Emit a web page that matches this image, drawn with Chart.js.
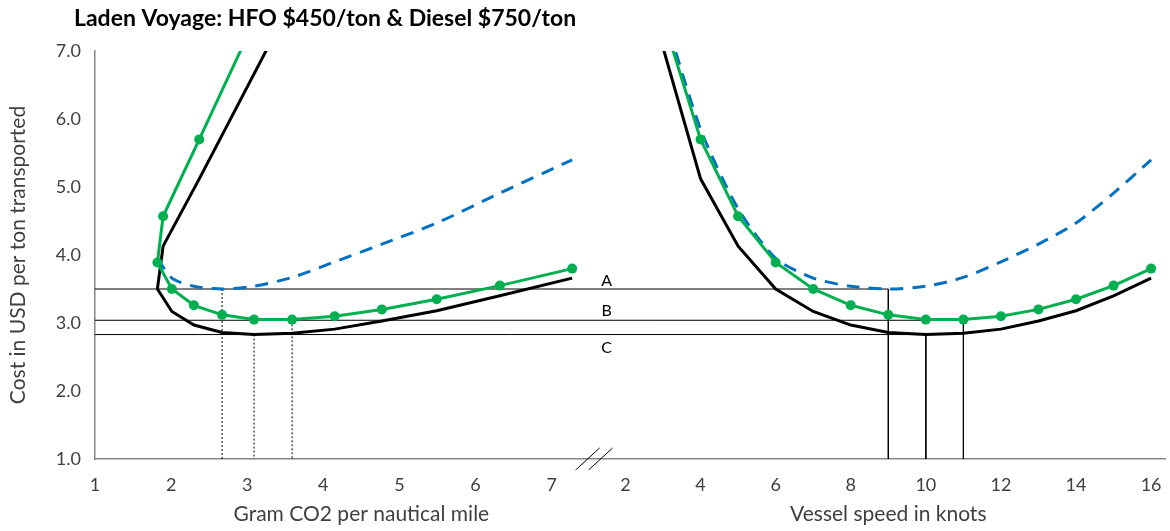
<!DOCTYPE html>
<html>
<head>
<meta charset="utf-8">
<script src="https://cdn.jsdelivr.net/npm/chart.js@4"></script>
<style>
  body { margin: 0; background: #fff; }
  #wrap { width: 1170px; height: 531px; }
</style>
</head>
<body>
<div id="wrap"><canvas id="chart" width="1170" height="531"></canvas></div>
<script>
const titleText = 'Laden Voyage: HFO $450/ton & Diesel $750/ton';
const yTitle = 'Cost in USD per ton transported';
const co2Title = 'Gram CO2 per nautical mile';
const speedTitle = 'Vessel speed in knots';

// one entry per vessel speed (knots)
const speeds    = [3, 4, 5, 6, 7, 8, 9, 10, 11, 12, 13, 14, 15, 16];
const greenCO2  = [3.11, 2.37, 1.895, 1.82, 2.01, 2.30, 2.67, 3.09, 3.59, 4.15, 4.77, 5.49, 6.32, 7.27];
const blackCO2  = [3.27, 2.37, 1.895, 1.82, 2.01, 2.30, 2.67, 3.09, 3.59, 4.15, 4.77, 5.49, 6.32, 7.27];
const greenCost = [7.48, 5.70, 4.57, 3.89, 3.50, 3.26, 3.12, 3.05, 3.05, 3.10, 3.20, 3.35, 3.55, 3.80];
const blackCost = [7.05, 5.12, 4.13, 3.50, 3.17, 2.97, 2.86, 2.83, 2.85, 2.91, 3.03, 3.18, 3.40, 3.66];
const blueCost  = [7.60, 5.85, 4.68, 3.95, 3.66, 3.54, 3.50, 3.54, 3.67, 3.90, 4.16, 4.47, 4.91, 5.40];
const blueFromSpeed = 6; // dashed curve only starts here on the CO2 side

// optimum lines A, B, C
const refLabels = ['A', 'B', 'C'];
const refCost   = [3.50, 3.04, 2.83];
const refSpeed  = [9, 11, 10];
const refCO2    = [2.67, 3.59, 3.09];

const yTicks = [1, 2, 3, 4, 5, 6, 7];
const co2Ticks = [1, 2, 3, 4, 5, 6, 7];
const speedTicks = [2, 4, 6, 8, 10, 12, 14, 16];
const co2Range = [1, 15.06];
const speedRange = [-12.13, 16.37];
const co2TitleAt = 4.5;   // where the CO2 axis title is centred
const speedTitleAt = 9;

const GREEN = '#00B050', BLUE = '#0070C0', BLACK = '#000000';
const TICK = '#404040';
const FONT = 'Lato, "Open Sans", sans-serif';

function pts(xs, ys, keep) {
  const out = [];
  speeds.forEach((s, i) => { if (!keep || keep(s)) out.push({ x: xs[i], y: ys[i] }); });
  return out;
}

const lineBase = { pointRadius: 0, borderWidth: 3, tension: 0, fill: false };
const green = { ...lineBase, borderColor: GREEN, backgroundColor: GREEN, pointRadius: 5, pointBorderWidth: 0, pointBackgroundColor: GREEN };
const blue = { ...lineBase, borderColor: BLUE, borderDash: [13, 9], tension: 0.25 };
const black = { ...lineBase, borderColor: BLACK };

const datasets = [
  // speed side
  { ...green, xAxisID: 'xSpeed', data: pts(speeds, greenCost) },
  { ...blue, xAxisID: 'xSpeed', data: pts(speeds, blueCost) },
  { ...black, xAxisID: 'xSpeed', data: pts(speeds, blackCost) },
  // CO2 side
  { ...green, xAxisID: 'xCO2', data: pts(greenCO2, greenCost) },
  { ...blue, xAxisID: 'xCO2', data: pts(greenCO2, blueCost, s => s >= blueFromSpeed) },
  { ...black, xAxisID: 'xCO2', data: pts(blackCO2, blackCost) }
];

refLabels.forEach((lab, i) => {
  datasets.push({
    xAxisID: 'xSpeed', borderColor: BLACK, borderWidth: 1, pointRadius: 0, tension: 0,
    data: [{ x: speedRange[0], y: refCost[i] }, { x: refSpeed[i], y: refCost[i] }, { x: refSpeed[i], y: yTicks[0] }]
  });
  datasets.push({
    xAxisID: 'xCO2', borderColor: BLACK, borderWidth: 1, borderDash: [2, 2], pointRadius: 0,
    data: [{ x: refCO2[i], y: refCost[i] }, { x: refCO2[i], y: yTicks[0] }]
  });
});

const decor = {
  id: 'decor',
  afterDraw(chart) {
    const { ctx, chartArea, scales } = chart;
    const xc = scales.xCO2, xs = scales.xSpeed, y = scales.y;
    ctx.save();

    // title
    ctx.fillStyle = '#000';
    ctx.font = 'bold 23px ' + FONT;
    ctx.textAlign = 'left';
    ctx.textBaseline = 'middle';
    ctx.fillText(titleText, 74, 19);

    // speed tick labels, in line with the CO2 tick labels
    const item = xc.getLabelItems()[0];
    ctx.font = '18px ' + FONT;
    ctx.fillStyle = TICK;
    ctx.textAlign = 'center';
    ctx.textBaseline = item.options.textBaseline;
    const ty = item.options.translation[1] + (item.textOffset || 0);
    speedTicks.forEach(s => ctx.fillText(String(s), xs.getPixelForValue(s), ty));

    // axis titles
    ctx.font = '21px ' + FONT;
    ctx.textBaseline = 'middle';
    const ay = chartArea.bottom + 55;
    ctx.fillText(co2Title, xc.getPixelForValue(co2TitleAt), ay);
    ctx.fillText(speedTitle, xs.getPixelForValue(speedTitleAt), ay);

    // axis break
    const mid = (xc.getPixelForValue(co2Ticks[co2Ticks.length - 1]) + xs.getPixelForValue(speedTicks[0])) / 2;
    ctx.strokeStyle = '#000';
    ctx.lineWidth = 1;
    [-1, 12].forEach(d => {
      ctx.beginPath();
      ctx.moveTo(mid + d - 12, chartArea.bottom + 11);
      ctx.lineTo(mid + d + 12, chartArea.bottom - 11);
      ctx.stroke();
    });

    // A B C
    ctx.font = '16px ' + FONT;
    ctx.fillStyle = '#000';
    const offs = [-8, -9, 13];
    refLabels.forEach((lab, i) => ctx.fillText(lab, mid + 18, y.getPixelForValue(refCost[i]) + offs[i]));
    ctx.restore();
  }
};

new Chart(document.getElementById('chart'), {
  type: 'line',
  data: { datasets },
  plugins: [decor],
  options: {
    responsive: false,
    animation: false,
    layout: { padding: { top: 51, right: 2, left: 0, bottom: 0 } },
    plugins: { legend: { display: false }, tooltip: { enabled: false } },
    scales: {
      xCO2: {
        type: 'linear', position: 'bottom', min: co2Range[0], max: co2Range[1],
        afterBuildTicks: s => { s.ticks = co2Ticks.map(v => ({ value: v })); },
        afterFit: s => { s.height = 72; },
        grid: { display: false, drawTicks: false },
        border: { display: true, color: '#868686', width: 1.5 },
        ticks: { color: TICK, font: { family: FONT, size: 18 }, padding: 15, maxRotation: 0, autoSkip: false }
      },
      xSpeed: {
        type: 'linear', display: false, min: speedRange[0], max: speedRange[1]
      },
      y: {
        type: 'linear', min: yTicks[0], max: yTicks[yTicks.length - 1],
        afterBuildTicks: s => { s.ticks = yTicks.map(v => ({ value: v })); },
        afterFit: s => { s.width = 95; },
        grid: { display: false, drawTicks: false },
        border: { display: true, color: '#868686', width: 1.5 },
        ticks: { color: TICK, font: { family: FONT, size: 18 }, padding: 14, callback: v => Number(v).toFixed(1) },
        title: { display: true, text: yTitle, color: TICK, font: { family: FONT, size: 21 }, padding: { top: 6, bottom: 0 } }
      }
    }
  }
});
</script>
</body>
</html>
